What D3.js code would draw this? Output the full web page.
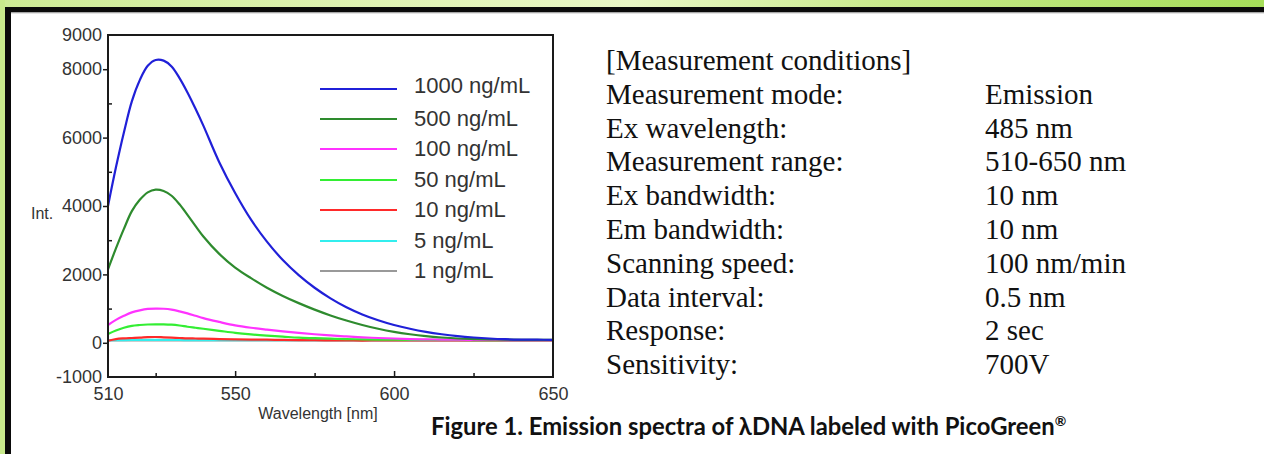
<!DOCTYPE html>
<html>
<head>
<meta charset="utf-8">
<script src="https://cdn.jsdelivr.net/npm/d3@7"></script>
<style>
  html, body { margin: 0; padding: 0; background: #fff; }
  svg { display: block; }
</style>
</head>
<body>
<svg id="chart" width="1264" height="454"></svg>
<script>
// ---------------- DATA ----------------
const wavelengths = [510,512.5,515,517.5,520,522.5,525,527.5,530,532.5,535,537.5,540,545,550,555,560,565,570,575,580,585,590,595,600,605,610,615,620,625,630,635,640,645,650];
const int1000 = [4000,5130,6150,7060,7680,8100,8270,8250,8080,7740,7320,6850,6350,5280,4380,3600,2960,2420,1980,1610,1300,1040,830,660,520,410,320,250,195,155,125,105,95,90,88];
const int500  = [2150,2760,3330,3850,4180,4400,4480,4440,4300,4050,3740,3420,3110,2600,2200,1890,1610,1370,1160,970,800,650,520,410,320,250,195,155,125,110,100,92,88,85,85];
const int100  = [520,670,790,890,950,990,1000,995,970,920,860,790,720,610,510,440,385,335,290,250,215,185,160,140,125,110,100,95,90,85,85,80,80,80,80];
const int50   = [260,360,440,495,520,535,540,540,530,505,470,440,410,350,290,245,210,180,150,135,120,110,100,95,90,88,85,85,82,80,80,80,80,80,80];
const int10   = [60,110,130,140,150,165,170,160,150,140,130,125,120,110,100,95,90,85,80,75,70,70,65,70,70,70,70,70,70,70,70,70,70,70,70];
const int5    = [75,78,80,82,85,85,85,85,85,82,80,80,80,78,78,75,75,75,75,75,75,75,75,75,75,75,75,75,75,75,75,75,75,75,75];
const int1    = [70,71,72,72,72,72,72,72,72,71,70,70,70,70,70,70,70,70,70,70,70,70,70,70,70,70,70,70,70,70,70,70,70,70,70];
const seriesNames = ["1000 ng/mL","500 ng/mL","100 ng/mL","50 ng/mL","10 ng/mL","5 ng/mL","1 ng/mL"];
const seriesValues = [int1000,int500,int100,int50,int10,int5,int1];
const seriesColors = ["#2020d8","#2e8b2e","#ff33ff","#33ee33","#ff2a2a","#33eeee","#999999"];
const yTickLabels = [9000,8000,6000,4000,2000,0,-1000];
const yMinorTicks = [7000,5000,3000,1000];
const xTickLabels = [510,550,600,650];
const xMinorTicks = [525,575,625];
const conditionLabels = ["Measurement mode:","Ex wavelength:","Measurement range:","Ex bandwidth:","Em bandwidth:","Scanning speed:","Data interval:","Response:","Sensitivity:"];
const conditionValues = ["Emission","485 nm","510-650 nm","10 nm","10 nm","100 nm/min","0.5 nm","2 sec","700V"];

// ---------------- LAYOUT ----------------
const svg = d3.select("#chart");
const W = 1264, H = 454;
const plot = {left:108, right:553, top:35, bottom:377};

// frame decoration
const defs = svg.append("defs");
const grad = defs.append("linearGradient").attr("id","topg").attr("x1","0").attr("x2","1").attr("y1","0").attr("y2","0");
[[0,"#cdeb95"],[0.3,"#e0f3b4"],[0.5,"#e9f7c6"],[0.7,"#c9ea8c"],[1,"#a6de5a"]].forEach(s=>grad.append("stop").attr("offset",s[0]).attr("stop-color",s[1]));
svg.append("rect").attr("x",0).attr("y",0).attr("width",W).attr("height",H).attr("fill","#fff");
svg.append("rect").attr("x",0).attr("y",0).attr("width",W).attr("height",8).attr("fill","url(#topg)");
svg.append("rect").attr("x",0).attr("y",0).attr("width",5).attr("height",H).attr("fill","#c8ea8c");
svg.append("rect").attr("x",5).attr("y",7).attr("width",W-5).attr("height",5.5).attr("fill","#0a0a0a");
svg.append("rect").attr("x",5).attr("y",7).attr("width",6).attr("height",H-7).attr("fill","#0a0a0a");
svg.append("rect").attr("x",11).attr("y",12.5).attr("width",W-11).attr("height",1).attr("fill","#c8c8c8");

// scales
const x = d3.scaleLinear().domain([510,650]).range([plot.left, plot.right]);
const y = d3.scaleLinear().domain([-1000,9000]).range([plot.bottom, plot.top]);

const g = svg.append("g");

// curves
const line = d3.line().x(d=>x(d[0])).y(d=>y(d[1])).curve(d3.curveCatmullRom.alpha(0.5));
const order = d3.range(seriesValues.length).reverse();
g.append("g").selectAll("path.series")
  .data(order).join("path")
  .attr("class","series")
  .attr("fill","none")
  .attr("stroke", i=>seriesColors[i])
  .attr("stroke-width",2.2)
  .attr("stroke-linejoin","round")
  .attr("d", i=>line(wavelengths.map((w,k)=>[w, seriesValues[i][k]])));

// frame box
g.append("rect").attr("x",plot.left).attr("y",plot.top)
  .attr("width",plot.right-plot.left).attr("height",plot.bottom-plot.top)
  .attr("fill","none").attr("stroke","#1a1a1a").attr("stroke-width",2);

const tickFont = "'Liberation Sans', Arial, sans-serif";
const fmt = d => String(d);
// y axis labeled
const yAxis = d3.axisLeft(y).tickValues(yTickLabels).tickSize(5).tickSizeOuter(0).tickPadding(1).tickFormat(fmt);
const ya = g.append("g").attr("transform",`translate(${plot.left},0)`).call(yAxis);
ya.select(".domain").remove();
ya.selectAll(".tick line").attr("stroke","#1a1a1a").attr("stroke-width",1.5)
  .attr("opacity", d => (d===9000||d===-1000)?0:1);
ya.selectAll(".tick text").attr("font-family",tickFont).attr("font-size",18).attr("fill","#333");
// y minor ticks
const yAxisMinor = d3.axisLeft(y).tickValues(yMinorTicks).tickSize(-4).tickSizeOuter(0).tickFormat("");
const ym = g.append("g").attr("transform",`translate(${plot.left},0)`).call(yAxisMinor);
ym.select(".domain").remove();
ym.selectAll(".tick line").attr("stroke","#1a1a1a").attr("stroke-width",1.5);

// x axis labeled (ticks inward)
const xAxis = d3.axisBottom(x).tickValues(xTickLabels).tickSize(-6).tickSizeOuter(0).tickPadding(10).tickFormat(fmt);
const xa = g.append("g").attr("transform",`translate(0,${plot.bottom})`).call(xAxis);
xa.select(".domain").remove();
xa.selectAll(".tick line").attr("stroke","#1a1a1a").attr("stroke-width",1.5)
  .attr("opacity", d => (d===510||d===650)?0:1);
xa.selectAll(".tick text").attr("font-family",tickFont).attr("font-size",18).attr("fill","#333");
const xAxisMinor = d3.axisBottom(x).tickValues(xMinorTicks).tickSize(-4).tickSizeOuter(0).tickFormat("");
const xm = g.append("g").attr("transform",`translate(0,${plot.bottom})`).call(xAxisMinor);
xm.select(".domain").remove();
xm.selectAll(".tick line").attr("stroke","#1a1a1a").attr("stroke-width",1.5);

// axis titles
g.append("text").attr("x",31).attr("y",219).attr("font-family",tickFont).attr("font-size",16).attr("fill","#333").text("Int.");
g.append("text").attr("x",318).attr("y",419).attr("text-anchor","middle").attr("font-family",tickFont).attr("font-size",16).attr("fill","#333").text("Wavelength [nm]");

// legend
const legendRows = [89,119,149,180,210,241,271];
const lg = g.append("g");
seriesNames.forEach((name,i)=>{
  lg.append("line").attr("x1",320).attr("x2",397).attr("y1",legendRows[i]).attr("y2",legendRows[i])
    .attr("stroke",seriesColors[i]).attr("stroke-width",2.2);
  lg.append("text").attr("x",414).attr("y",legendRows[i]+ (i===0?4:7)).attr("font-family",tickFont)
    .attr("font-size",22).attr("fill","#333").text(name);
});

// measurement conditions
const serif = "'Liberation Serif', 'Times New Roman', serif";
const cg = svg.append("g").attr("font-family",serif).attr("font-size",29).attr("fill","#111");
const rowY = i => 70 + i*33.8;
cg.append("text").attr("x",606).attr("y",rowY(0)).text("[Measurement conditions]");
conditionLabels.forEach((t,i)=>{
  cg.append("text").attr("x",606).attr("y",rowY(i+1)).text(t);
  cg.append("text").attr("x",985).attr("y",rowY(i+1)).text(conditionValues[i]);
});

// caption
const cap = svg.append("text").attr("x",431).attr("y",435)
  .attr("font-family","Lato, 'Open Sans', sans-serif").attr("font-weight","bold").attr("font-size",23.8).attr("fill","#111");
cap.append("tspan").text("Figure 1. Emission spectra of ");
cap.append("tspan").text("λ");
cap.append("tspan").text("DNA labeled with PicoGreen");
cap.append("tspan").attr("font-size",14).attr("dy",-9).text("®");
</script>
</body>
</html>
